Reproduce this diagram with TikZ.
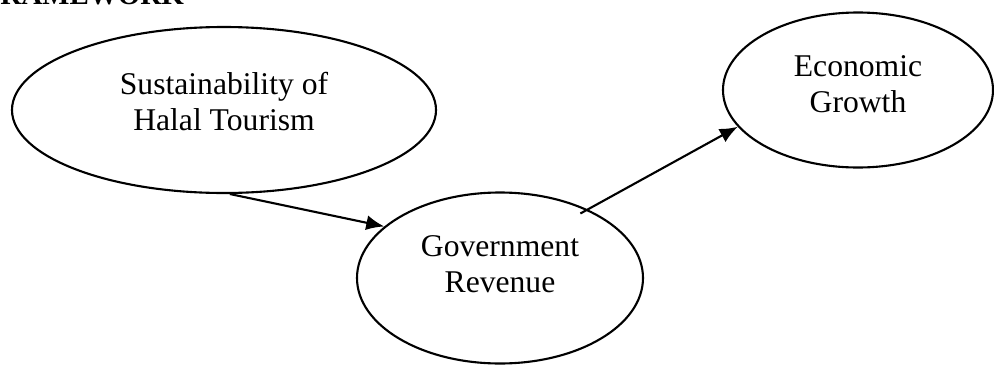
\documentclass[tikz,border=0pt]{standalone}
\usepackage{fontspec}
\setmainfont{Liberation Serif}
\usepackage{tikz}
\usetikzlibrary{arrows.meta,shapes.geometric}

\tikzset{
  oval/.style={draw,ellipse,line width=1.2pt,inner sep=0pt},
  lbl/.style={align=center,font=\fontsize{18}{20.5}\selectfont},
  link/.style={line width=1.2pt,-{Latex[length=0.36cm,width=0.3cm]}}
}

\begin{document}
\begin{tikzpicture}
          \useasboundingbox (0,0) rectangle (19.88,-7.3);
          \node[anchor=base west,inner sep=0pt,font=\fontsize{16.5}{18}\selectfont\bfseries] (head) at (0,-0.09) {RAMEWORK};
          \node[oval,minimum width=8.48cm,minimum height=3.32cm] (sust) at (4.48,-2.2) {};
          \node[oval,minimum width=5.4cm,minimum height=3.1cm] (econ) at (17.16,-1.8) {};
          \node[oval,minimum width=5.72cm,minimum height=3.42cm] (gov) at (10,-5.56) {};
          \node[lbl] (susttxt) at ([yshift=0.16cm]sust.center) {Sustainability of\\Halal Tourism};   % first
          \node[lbl] (econtxt) at ([yshift=0.12cm]econ.center) {Economic\\Growth};                   % right
          \node[lbl] (govtxt) at ([yshift=0.28cm]gov.center) {Government\\Revenue};                  % middle
          \draw[link] (sust.-86) -- (gov.156);
          \draw[link,shorten <=-0.17cm] (gov.38) -- (econ.197);
        \end{tikzpicture}
\end{document}
